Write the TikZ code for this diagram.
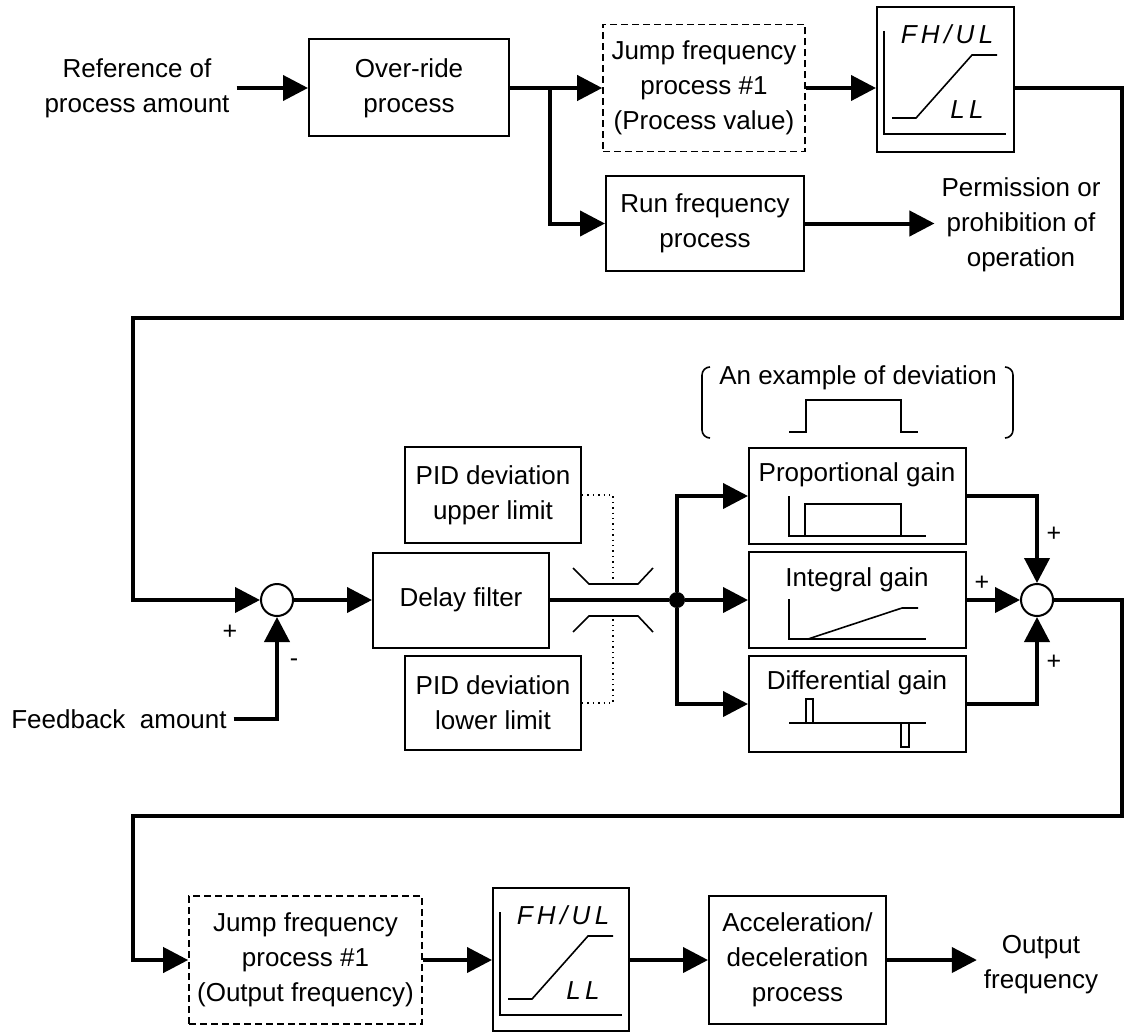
\documentclass[tikz,border=0pt]{standalone}
\usepackage{fontspec}
\setmainfont{Liberation Sans}
\usetikzlibrary{arrows.meta, positioning, calc}
\tikzset{
	blk/.style={draw, line width=1pt, align=center, inner sep=0pt},
	jumpblk/.style={blk, line width=0.8pt, dash pattern=on 3.5pt off 2pt},
	wire/.style={line width=2pt},
	flow/.style={wire, -{Triangle[length=12.5pt, width=12.5pt]}},
	plotline/.style={line width=0.8pt},
	limitline/.style={line width=0.7pt, dotted},
	sumpt/.style={circle, draw, line width=1pt, minimum size=16pt, inner sep=0pt},
	sign/.style={font=\fontsize{12.5}{14}\selectfont},
	segfont/.style={font=\fontsize{13}{15}\selectfont\itshape},
}
\begin{document}
\begin{tikzpicture}[x=0.5pt, y=-0.5pt, font=\fontsize{13}{17.5}\selectfont]
\useasboundingbox (0,0) rectangle (1127,1032);

% top row
\node[align=center] (refin) at (137,88) {Reference of\\process amount};
\node[blk, minimum width=100pt, minimum height=48.5pt] (ovr) at (409,88) {Over-ride\\process};
\node[jumpblk, minimum width=101pt, minimum height=63.5pt] (jmpa) at (704,88) {Jump frequency\\process \#1\\(Process value)};
\node[blk, minimum width=68.5pt, minimum height=72.5pt] (fha) at (945.5,79.5) {};
\node[blk, minimum width=99pt, minimum height=47.5pt] (run) at (705,223.5) {Run frequency\\process};
\node[align=center] (perm) at (1021,225) {Permission or\\prohibition of\\operation};
\coordinate (bra) at (550,88);
\coordinate (ca) at (1122,318);
\coordinate (cb) at (133,318);

% middle row
\node[sumpt] (sa) at (277,600) {};
\node[blk, minimum width=88pt, minimum height=47.5pt] (dly) at (461,600) {Delay filter};
\node[blk, minimum width=88pt, minimum height=48pt] (pidu) at (493,495) {PID deviation\\upper limit};
\node[blk, minimum width=88pt, minimum height=47pt] (pidl) at (493,703) {PID deviation\\lower limit};
\node (fb) at (119,719) {Feedback\ \ amount};
\node[circle, fill, inner sep=0pt, minimum size=8pt] (jn) at (677,600) {};
\coordinate (limu) at (613,584);
\coordinate (liml) at (613,616);
\node[blk, minimum width=108.5pt, minimum height=48pt] (prop) at (857.5,496) {};
\node (propt) at (857,475) {Proportional gain};
\node[blk, minimum width=108.5pt, minimum height=48pt] (intg) at (857.5,600) {};
\node (intgt) at (857,580) {Integral gain};
\node[blk, minimum width=108.5pt, minimum height=48pt] (diff) at (857.5,704) {};
\node (difft) at (857,683) {Differential gain};
\node[sumpt] (sb) at (1037,600) {};
\node (exmp) at (858,378) {An example of deviation};
\coordinate (cc) at (1122,816);
\coordinate (cd) at (133,816);

% bottom row
\node[jumpblk, minimum width=116.5pt, minimum height=64pt] (jmpb) at (305.5,960) {Jump frequency\\process \#1\\(Output frequency)};
\node[blk, minimum width=68pt, minimum height=71.5pt] (fhb) at (561,959.5) {};
\node[blk, minimum width=88.5pt, minimum height=64pt] (acc) at (797.5,960) {Acceleration/\\deceleration\\process};
\node[align=center] (outf) at (1041,965) {Output\\frequency};

% limiter characteristics
\foreach \b in {fha,fhb} {
	\draw[plotline] ($(\b.north west)+(8,25)$) |- ($(\b.north west)+(130,128)$);
	\draw[plotline] ($(\b.north west)+(16,112)$) -- ++(24,0) -- ($(\b.north west)+(96,49)$) -- ++(25,0);
	\node[segfont] (\b-up) at ($(\b.north west)+(71,28)$) {F\,H\,/\,U\,L};
	\node[segfont] (\b-lo) at ($(\b.north west)+(91,104)$) {L\,L};
}

% wave shapes
\draw[plotline] (789,432) -- (806,432) |- (901,400) -- (901,432) -- (918,432);
\draw[plotline, rounded corners=4pt] (710,367) -- (702,367) -- (702,438) -- (710,438);
\draw[plotline, rounded corners=4pt] (1005,367) -- (1013,367) -- (1013,438) -- (1005,438);
\draw[plotline] (789,496) |- (926,536);
\draw[plotline] (805,536) |- (901,504) -- (901,536);
\draw[plotline] (789,599) |- (926,639);
\draw[plotline] (808,639) -- (902,608) -- (918,608);
\draw[plotline] (789,723) -- (926,723);
\draw[plotline] (806,723) |- (813,699) -- (813,723);
\draw[plotline] (901,723) |- (909,747) -- (909,723);

% deviation limits
\draw[plotline] (573,568) -- (589,584) -- (638,584) -- (653,568);
\draw[plotline] (573,632) -- (589,616) -- (638,616) -- (653,632);
\draw[limitline] (pidu.east) -| (limu);
\draw[limitline] (pidl.east) -| (liml);

% signal flow
\draw[flow] (refin.east) -- (ovr.west);
\draw[flow] (ovr.east) -- (jmpa.west);
\draw[flow] (bra) |- (run.west);
\draw[flow] (jmpa.east) -- (jmpa.east -| fha.west);
\draw[flow] (run.east) -- (run.east -| perm.west);
\draw[flow] (jmpa.east -| fha.east) -| (ca) -- (cb) |- (sa);
\draw[flow] (fb.east) -| (sa);
\draw[flow] (sa) -- (dly);
\draw[wire] (dly) -- (jn);
\draw[flow] (jn) |- (prop);
\draw[flow] (jn) -- (intg);
\draw[flow] (jn) |- (diff);
\draw[flow] (prop) -| (sb);
\draw[flow] (intg) -- (sb);
\draw[flow] (diff) -| (sb);
\draw[flow] (sb) -| (cc) -- (cd) |- (jmpb);
\draw[flow] (jmpb.east) -- (jmpb.east -| fhb.west);
\draw[flow] (fhb.east |- acc.west) -- (acc.west);
\draw[flow] (acc.east) -- (acc.east -| outf.west);

% signs
\node[sign] (pa) at (230,632) {+};
\node[sign] (ma) at (294,663) {-};
\node[sign] (pb) at (1054,534) {+};
\node[sign] (pc) at (982,583) {+};
\node[sign] (pd) at (1054,662) {+};
\end{tikzpicture}
\end{document}
